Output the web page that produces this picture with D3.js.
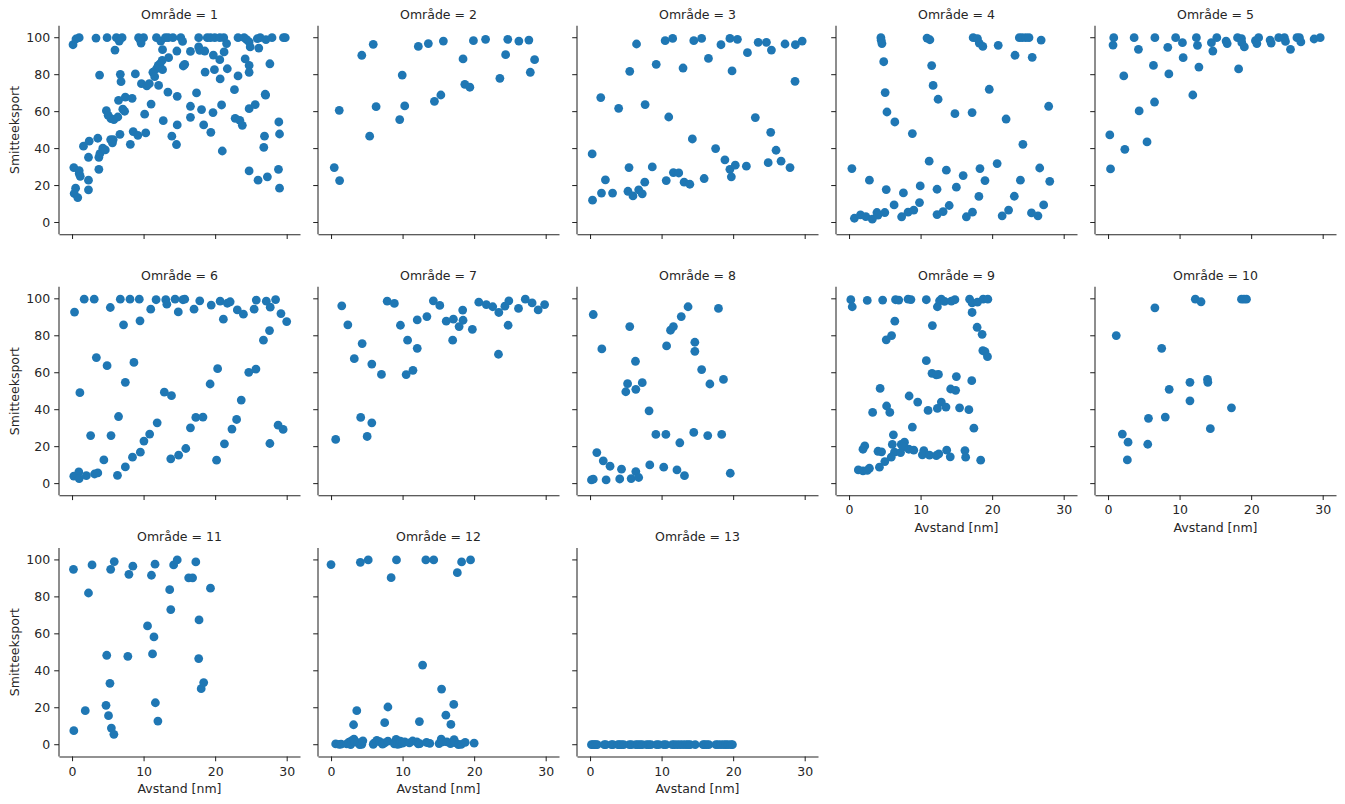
<!DOCTYPE html>
<html>
<head>
<meta charset="utf-8">
<script src="https://cdn.jsdelivr.net/npm/d3@7"></script>
<style>
  html, body { margin: 0; background: #fff; }
  text { font-family: "DejaVu Sans", sans-serif; fill: #262626; }
</style>
</head>
<body>
<div id="chart"></div>
<script>
// [avstand, smitteeksport] per område
const area1 = [[.14,96.2],[.55,99.3],[1,100],[3.35,99.8],[4.9,100],[6.2,100],[6.6,98.2],[7,100],[6,93.3],[3.85,79.8],[6.75,80.2],[6.85,76.2],[8.85,80.4],[4.8,60.5],[5.05,58],[5.45,56.2],[5.85,55.7],[6.4,57.1],[6.5,66.1],[7.45,67.9],[8.4,67.2],[7.1,61.3],[7.35,60.2],[6.7,47.7],[8.55,49.2],[9.2,47.2],[10.3,48.5],[8.15,42.3],[5.4,44.9],[5.75,44.9],[5.65,43.1],[3.6,45.6],[2.4,44],[1.6,41.3],[2.3,35.3],[3.75,35.3],[3.9,37.3],[4.3,40.2],[4.65,39.3],[3.75,28.8],[.25,29.7],[1,28.1],[1,26.5],[1.15,25],[2.3,22.9],[2.3,17.7],[.5,18.6],[.3,15.7],[.8,13.5],[9.3,100],[10,100],[9.65,97.1],[9.5,99],[11.8,100],[12.4,98.2],[13.05,100],[13.45,100],[14.1,100],[15.2,100],[15.45,98],[12.65,93.5],[14.65,92.8],[16.55,92.6],[13.5,89.2],[12.6,87.7],[12.3,85.9],[12.05,85],[11.8,83.2],[12.65,82.7],[11.3,81.3],[11.55,78.9],[15.55,84.7],[15.75,85.6],[9.7,75.1],[10.45,73.9],[10.8,75.1],[12.1,74.2],[13.4,70.6],[14.7,68.3],[11.05,64.1],[10.15,58.6],[12.75,55.1],[14.7,52.8],[13.95,46.7],[14.6,42.2],[16.55,56.9],[16.55,62.9],[17.4,70.1],[18.1,61.1],[18.4,52.8],[19.4,48.8],[19.7,59.5],[20.9,63.6],[21,38.7],[17.7,100],[17.7,95],[17.85,93.2],[18.55,92.8],[18.9,100],[19.35,100],[19.95,100],[20.65,100],[21.2,100],[19.75,90.6],[20.65,88.1],[21.25,92.3],[21.6,96.8],[18.6,81.4],[19.9,82.7],[20.7,77.7],[21.7,83.2],[23.2,100],[24.05,100],[24.4,99],[24.75,97.7],[24.9,95],[26.1,94.4],[26.3,100],[27.1,99],[27.95,100],[25.9,99.5],[29.55,100],[29.8,100],[24.2,88.5],[24.75,85],[24.75,81.3],[23.2,79.3],[22.7,71.9],[22.8,56.4],[23.45,55.3],[23.8,52.6],[24.75,61.6],[25.6,63.8],[27,69.4],[27.05,68.9],[27.65,85.9],[26.9,46.7],[26.8,40.7],[24.75,27.9],[26,22.9],[27.3,24.7],[28.85,28.8],[28.9,54.4],[29,47.9],[29,18.6]]
const area2 = [[.45,29.7],[1.2,22.7],[1.15,60.7],[4.3,90.5],[5.9,96.4],[5.4,46.7],[6.3,62.7],[9.6,55.7],[10.3,63.1],[9.95,79.8],[12.2,95.3],[13.6,96.8],[14.45,65.6],[15.35,69],[15.7,98.2],[18.45,88.5],[18.7,74.8],[19.4,73.2],[19.9,98.4],[21.6,99.1],[23.6,78],[24.4,90.8],[24.7,99.1],[26.25,98.2],[27.65,98.7],[27.85,81.3],[28.45,88.1]]
const area3 = [[.3,37.1],[.35,12.1],[1.6,15.9],[2.15,23.1],[1.5,67.6],[3.15,15.9],[4,61.8],[5.3,16.9],[5.45,29.7],[5.55,81.8],[6,14.4],[6.5,96.6],[6.8,17.7],[7.3,15.5],[7.65,21.8],[7.7,63.8],[8.7,30.1],[9.25,85.6],[10.65,22.7],[10.5,98.4],[11,57.1],[11.55,99.6],[11.65,27],[12.4,26.8],[13,83.6],[13.15,21.8],[13.95,20.7],[14.3,45.2],[14.5,98.4],[15.6,99.6],[15.95,23.8],[16.55,88.8],[17.55,40],[18.3,96.2],[18.85,33.9],[19.55,99.6],[19.55,28.8],[19.75,24.7],[19.85,82],[20.3,31],[20.6,99.1],[21.85,30.5],[22,91.9],[23.1,56.8],[23.5,97.5],[24.65,97.5],[24.9,32.4],[25.25,48.8],[25.35,93.3],[26,39.1],[26.7,33.2],[27.25,96.6],[27.95,29.7],[28.65,76.4],[28.7,96.2],[29.65,98.2]]
const area4 = [[.4,29.2],[.75,2.3],[1.6,4.1],[2.35,3.2],[3.25,1.8],[3.9,5.4],[4.05,4],[5,5.4],[2.85,22.9],[5.2,17.8],[4.45,100],[4.5,98.6],[4.6,96.8],[4.85,87],[5.05,70.3],[5.3,59.8],[6.4,54.4],[8.85,48.1],[6.3,9.5],[7.35,3.1],[7.6,16],[8.25,5.6],[9.05,6.7],[9.85,10.8],[9.95,19.8],[10.9,99.8],[11.3,98.9],[11.55,84.9],[11.75,74.2],[12.45,66.7],[11.2,33.2],[12.3,18],[12.3,4.3],[13.15,5.9],[13.6,28.3],[14,9.2],[14.8,58.9],[15,19.1],[15.95,25.4],[16.4,3.1],[17.25,5.6],[17.2,59.5],[17.35,100],[17.95,99.5],[18.2,97.1],[18.7,95.3],[18.15,14.1],[18.3,29.2],[19,22.7],[19.6,72.1],[20.7,31.9],[20.85,95.9],[21.4,3.6],[22.3,6.7],[21.95,56],[23.1,14.2],[23.2,90.5],[23.95,22.9],[24.3,42.3],[23.8,100],[24.2,100],[24.7,100],[25.15,100],[25.5,5.2],[25.6,89.4],[26.4,3.6],[26.85,98.7],[26.65,29.5],[27.2,9.5],[28.05,22.3],[27.9,62.9]]
const area5 = [[.25,47.4],[.35,29],[.7,96],[.8,100],[2.2,79.3],[2.35,39.6],[3.65,100],[4.25,93.7],[4.35,60.4],[5.45,43.6],[6.35,85],[6.5,65.2],[6.55,100],[8.35,94.8],[8.5,80.4],[9.45,100],[10.4,97.3],[10.5,89.2],[11.85,69],[12.35,100],[12.5,95.9],[12.7,84.1],[14.45,97.3],[14.65,92.8],[15.2,100],[16.5,98.2],[16.65,96.8],[18.1,100],[18.65,99.5],[18.25,83.1],[18.7,97.3],[19.05,95],[20.6,98.4],[20.8,96.8],[21.05,100],[22.65,98.7],[22.8,97.1],[23.85,100],[24.65,100],[24.8,98],[25.5,93.7],[26.4,100],[26.75,100],[26.95,97.7],[28.8,99.3],[29.65,100]]
const area6 = [[.25,4],[.95,6.3],[1,2.7],[.35,92.8],[1.1,49.2],[1.7,99.8],[2,4.3],[2.6,26],[3.1,99.8],[3.15,5.2],[3.6,5.8],[3.4,68.2],[4.45,12.8],[4.9,63.8],[5.35,95.3],[5.45,26],[6.35,4.5],[6.5,36.3],[6.75,99.8],[7.2,85.9],[7.45,9],[7.45,54.8],[8.1,99.8],[8.45,14.3],[8.65,65.6],[9.4,99.8],[9.5,88.1],[9.55,17],[10.05,23],[10.85,26.8],[11,94.4],[11.75,99.5],[11.9,32.9],[12.9,49.5],[13.1,99.5],[13.25,97.1],[13.8,13.4],[13.9,47.6],[14.4,99.8],[14.85,92.9],[14.9,15.4],[15.5,99.5],[15.75,99.8],[15.9,19],[16.55,30.2],[17.05,94.4],[17.3,35.8],[17.85,98.9],[18.3,36],[19.3,53.9],[19.45,96.6],[20.2,12.7],[20.35,62.2],[20.7,98.7],[21.15,89],[21.3,21.5],[21.7,97.6],[22.1,98.4],[22.35,29.5],[23,34.7],[23.1,94],[23.65,45.2],[23.95,91.7],[24.7,60.2],[25.45,94.4],[25.7,62],[25.75,99.3],[26.75,77.6],[27.15,98.7],[27.65,21.7],[27.7,95.5],[27.6,82.8],[28.45,99.6],[28.8,31.6],[29.2,92],[29.5,29.3],[30,87.7]]
const area7 = [[.65,23.9],[1.5,96.2],[2.35,85.9],[3.25,67.6],[4.15,35.8],[4.35,75.8],[5.05,25.5],[5.7,64.7],[5.7,32.9],[7.05,59.1],[7.85,98.7],[8.85,97.5],[9.7,85.7],[10.5,59],[10.7,77.6],[11.45,61.3],[12.05,73.2],[12.05,88.6],[13.4,90.4],[14.3,98.9],[15.2,96.4],[16.1,87.9],[17,77.6],[17.1,89],[17.9,85],[18.45,88.4],[18.4,93.9],[19.75,83.5],[20.65,98.2],[21.7,96.9],[22.6,95.7],[23.4,70],[23.45,92.6],[24.3,96],[24.85,98.9],[24.75,85.7],[26.2,94.8],[27.15,99.8],[28.1,97.8],[28.95,94],[29.85,96.9]]
const area8 = [[.2,2],[.45,2.4],[.45,91.5],[.95,16.8],[1.65,72.9],[1.85,12.3],[2.25,2],[2.8,9.4],[4.15,2.5],[4.4,7.8],[5,49.7],[5.25,54.1],[5.55,85],[5.75,2.7],[6.35,66.2],[6.4,51],[6.4,6.5],[6.8,3.3],[7.3,54.6],[8.25,39.4],[8.35,10.1],[9.2,26.6],[10.3,8.9],[10.6,26.6],[10.7,74.5],[11.25,83],[11.65,85],[12.15,7.4],[12.55,22.1],[12.75,90.4],[13.2,4.3],[13.7,95.7],[14.5,27.7],[14.65,76.5],[14.65,71.6],[15.6,61.7],[16.45,26],[16.75,53.9],[17.95,94.8],[18.4,26.6],[18.65,56.4],[19.6,5.6]]
const area9 = [[.25,99.5],[.45,95.7],[2.55,99.1],[4.7,99.3],[6.5,99.5],[6.95,99.3],[8.25,99.8],[8.65,99.6],[10.8,99.5],[12.35,95.7],[12.65,98.9],[12.9,99.8],[13.35,98.6],[14.3,98.7],[14.8,99.5],[16.85,99.8],[17.2,97.8],[17.95,98.2],[18.75,99.8],[19.4,99.8],[17.2,92.6],[6.4,87.9],[11.65,85.5],[17.9,84.6],[18.6,80.8],[5.95,80.1],[5.2,77.8],[18.7,72],[19,71.4],[19.35,68.7],[10.8,66.5],[11.6,59.7],[12.2,58.8],[12.5,59.1],[15,57.9],[17.15,55.7],[4.35,51.5],[14.2,51.2],[14.9,50.5],[8.4,47.4],[9.6,44.1],[12.9,44.1],[5.25,42],[12.35,40.7],[13.55,41.4],[15.45,41],[16.75,40],[11.05,39.6],[3.3,38.5],[5.7,38.5],[8.85,30.6],[17.45,30],[6.2,26.4],[2.2,20.4],[1.95,18.6],[4.05,17.5],[4.55,17.2],[6.05,21.2],[7.3,21.2],[7.75,22.4],[6.35,17],[5.9,14.3],[5,11.9],[4.25,8.9],[7.2,16.8],[7.55,19.9],[8.35,18.6],[9.05,18.1],[10.45,17.9],[10.25,15.6],[11.25,15.4],[12.2,15.2],[12.55,16.1],[13.65,18.1],[14.15,14.5],[16.2,17.9],[16.3,14.3],[18.4,12.7],[1.3,7.4],[1.95,6.9],[2.55,7.2],[2.85,8.3]]
const area10 = [[1.15,80.1],[2,26.8],[2.8,22.4],[2.7,12.8],[5.55,21.3],[5.65,35.3],[6.55,95.1],[7.5,73.2],[8,36],[8.55,51],[11.45,54.8],[11.45,44.8],[12.2,99.8],[13,98.4],[13.9,56.4],[13.95,54.8],[14.3,29.7],[17.25,41],[18.65,99.8],[19,99.8],[19.35,99.8]]
const area11 = [[.25,7.6],[.2,94.9],[1.85,18.4],[2.3,82.1],[2.8,97.3],[4.75,21.3],[4.85,48.4],[5.1,15.7],[5.3,33.2],[5.4,94.9],[5.5,9],[5.85,5.6],[5.9,99.1],[7.8,47.8],[7.95,92.2],[8.5,96.6],[10.55,64.3],[11.1,91.7],[11.25,49.1],[11.45,58.3],[11.6,97.7],[11.65,22.7],[12,12.8],[13.65,83.9],[13.8,73.1],[14.2,97.3],[14.7,100],[16.3,90.3],[16.85,90.3],[17.3,98.9],[17.7,46.6],[17.75,67.5],[18.05,30.3],[18.4,33.6],[19.35,84.7]]
const area12 = [[0,97.5],[4.1,98.7],[5.2,100],[8.4,90.4],[9.15,100],[13.25,100],[14.35,100],[17.65,93.1],[18.25,98.9],[19.5,100],[12.8,43.1],[15.45,30.1],[17.15,21.8],[7.95,20.4],[3.6,18.4],[16.05,16],[7.5,11.9],[12.35,12.5],[3.15,10.8],[16.75,11],[.65,.4],[1.15,.2],[1.4,.3],[2.2,.5],[2.5,1.4],[2.75,.1],[2.9,2.2],[3.2,3],[3.35,1.5],[3.75,1.1],[4,.1],[4.3,.2],[4.45,2.1],[5.9,.2],[6,.9],[6.4,2.3],[6.8,1.7],[7.2,.3],[7.5,1],[7.95,1.9],[8.85,.5],[9.1,2.9],[9.3,.2],[9.6,.5],[9.7,1.9],[10,.8],[10.3,1.5],[10.95,1],[11.4,2],[12,1.5],[12.2,.4],[12.4,.6],[13.35,1.2],[13.8,.7],[15.1,.6],[15.4,3],[15.6,1.5],[16.2,1.5],[16.7,.6],[17.2,2.7],[17.3,1.2],[17.8,.1],[18.2,.2],[18.75,1.3],[20,.8]]
const area13 = [.2,.4,.6,.8,1,2,2.2,3,3.2,3.9,4.1,4.4,4.7,5.5,5.8,6.4,6.7,7,7.3,7.9,8.2,8.5,9.3,9.6,10.3,10.6,11.5,11.8,12.2,12.6,13,13.4,13.7,14,14.7,15.8,16,16.3,16.6,17.6,17.9,18.3,18.7,19,19.3,19.7,19.9].map(x => [x, 0])

const areas = [area1, area2, area3, area4, area5, area6, area7, area8, area9, area10, area11, area12, area13]
const xTicks = [0, 10, 20, 30]
const yTicks = [0, 20, 40, 60, 80, 100]

const width = 1345
const height = 804
const panelW = 241
const panelH = 208.5
const left = 59
const top0 = 25.7
const stepX = 259
const stepY = 261.1
const columns = 5
const fontSize = '12.5px'
const color = '#1f77b4'
const ink = '#262626'

const xScale = d3.scaleLinear().domain([-1.82, 31.86]).range([0, panelW])
const yScale = d3.scaleLinear().domain([-6.33, 106.5]).range([panelH, 0])

const svg = d3.select('#chart').append('svg')
  .attr('width', width)
  .attr('height', height)
  .style('display', 'block')

function styleAxis (g) {
  g.selectAll('.domain').attr('stroke', ink).attr('stroke-width', 1.05)
  g.selectAll('.tick line').attr('stroke', ink).attr('stroke-width', 1.05)
  g.selectAll('.tick text')
    .attr('fill', ink)
    .style('font-size', fontSize)
    .style('font-family', '"DejaVu Sans", sans-serif')
}

areas.forEach((points, i) => {
  const col = i % columns
  const row = Math.floor(i / columns)
  // panels with nothing under them carry the x labels
  const showX = i + columns >= areas.length
  const showY = col === 0
  const g = svg.append('g')
    .attr('transform', `translate(${left + col * stepX},${top0 + row * stepY})`)

  g.selectAll('circle')
    .data(points)
    .join('circle')
    .attr('cx', d => xScale(d[0]))
    .attr('cy', d => yScale(d[1]))
    .attr('r', 4.4)
    .attr('fill', color)

  const xAxis = d3.axisBottom(xScale)
    .tickValues(xTicks)
    .tickSize(4.8)
    .tickSizeOuter(0)
    .tickPadding(5.5)
    .tickFormat(showX ? d3.format('d') : '')
  const yAxis = d3.axisLeft(yScale)
    .tickValues(yTicks)
    .tickSize(4.8)
    .tickSizeOuter(0)
    .tickPadding(4)
    .offset(0)
    .tickFormat(showY ? d3.format('d') : '')

  g.append('g').attr('transform', `translate(0,${panelH})`).call(xAxis).call(styleAxis)
  g.append('g').call(yAxis).call(styleAxis)

  g.append('text')
    .text(`Område = ${i + 1}`)
    .attr('x', panelW / 2)
    .attr('y', -7)
    .attr('text-anchor', 'middle')
    .style('font-size', fontSize)

  if (showX) {
    g.append('text')
      .text('Avstand [nm]')
      .attr('x', panelW / 2)
      .attr('y', panelH + 36.5)
      .attr('text-anchor', 'middle')
      .style('font-size', fontSize)
  }
  if (showY) {
    g.append('text')
      .text('Smitteeksport')
      .attr('transform', `translate(-40,${panelH / 2}) rotate(-90)`)
      .attr('text-anchor', 'middle')
      .style('font-size', fontSize)
  }
})
</script>
</body>
</html>
